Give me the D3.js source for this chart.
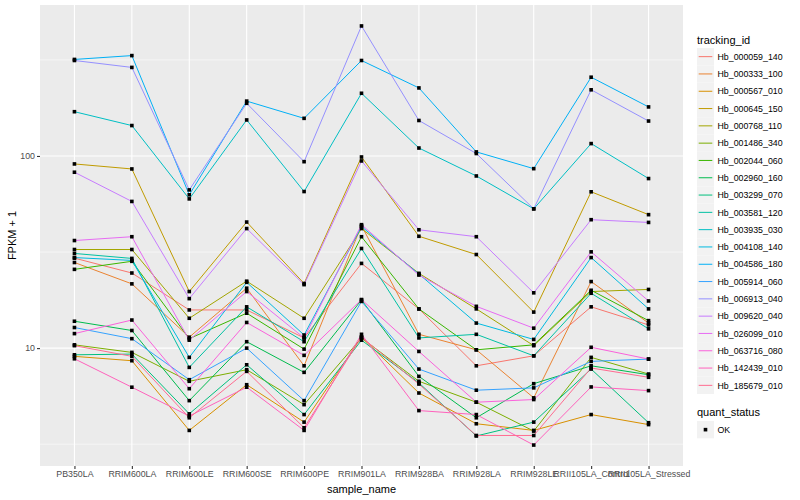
<!DOCTYPE html>
<html>
<head>
<meta charset="utf-8">
<script src="https://cdn.jsdelivr.net/npm/d3@7"></script>
<style>
  body { margin: 0; background: #fff; }
  text { font-family: "Liberation Sans", Arial, sans-serif; }
</style>
</head>
<body>
<svg id="chart" width="800" height="500"></svg>
<script>
// sample names on the x axis
const samples = ["PB350LA", "RRIM600LA", "RRIM600LE", "RRIM600SE", "RRIM600PE", "RRIM901LA",
  "RRIM928BA", "RRIM928LA", "RRIM928LE", "RRII105LA_Control", "RRII105LA_Stressed"];

const trackingIds = ["Hb_000059_140", "Hb_000333_100", "Hb_000567_010", "Hb_000645_150", "Hb_000768_110",
  "Hb_001486_340", "Hb_002044_060", "Hb_002960_160", "Hb_003299_070", "Hb_003581_120",
  "Hb_003935_030", "Hb_004108_140", "Hb_004586_180", "Hb_005914_060", "Hb_006913_040",
  "Hb_009620_040", "Hb_026099_010", "Hb_063716_080", "Hb_142439_010", "Hb_185679_010"];

// FPKM + 1 per sample, one array per gene
const hb000059_140 = [29.4, 24.6, 15.8, 15.8, 11.3, 27.6, 16.0, 8.09, 9.12, 16.4, 13.2];
const hb000333_100 = [27.9, 21.6, 11.4, 20.5, 8.09, 43.4, 11.8, 9.80, 5.51, 22.2, 13.5];
const hb000567_010 = [9.06, 8.60, 3.73, 6.45, 4.12, 11.4, 5.84, 4.04, 3.73, 4.51, 4.00];
const hb000645_150 = [90.9, 85.6, 19.7, 45.3, 21.7, 98.8, 38.2, 30.7, 15.4, 65.1, 49.5];
const hb000768_110 = [32.6, 32.6, 14.3, 22.3, 14.3, 41.9, 24.5, 16.0, 10.3, 19.7, 20.2];
const hb001486_340 = [10.4, 9.50, 6.72, 7.72, 5.08, 11.3, 6.72, 5.23, 3.70, 8.95, 7.33];
const hb002044_060 = [25.7, 28.3, 11.2, 15.2, 9.88, 38.0, 16.0, 9.80, 10.4, 20.0, 13.9];
const hb002960_160 = [13.8, 12.35, 5.33, 10.8, 7.48, 17.8, 7.13, 4.34, 6.53, 8.09, 7.27];
const hb003299_070 = [9.23, 9.31, 4.55, 8.19, 4.51, 11.0, 6.59, 3.49, 4.12, 7.78, 4.09];
const hb003581_120 = [31.1, 29.3, 7.94, 16.4, 10.8, 33.0, 11.3, 11.8, 9.12, 19.3, 12.6];
const hb003935_030 = [170, 144, 59.8, 154, 65.3, 212, 110, 78.7, 53.1, 116, 76.3];
const hb004108_140 = [29.6, 28.6, 8.95, 22.0, 11.7, 42.9, 24.3, 13.5, 11.1, 29.6, 16.0];
const hb004586_180 = [318, 333, 62.8, 193, 157, 314, 226, 105, 85.9, 257, 180];
const hb005914_060 = [12.8, 11.2, 6.85, 10.0, 5.33, 17.5, 7.78, 6.04, 6.21, 8.53, 8.77];
const hb006913_040 = [314, 289, 66.6, 188, 93.4, 475, 153, 103, 53.1, 221, 152];
const hb009620_040 = [82.3, 58.0, 18.1, 41.9, 21.4, 94.2, 41.3, 38.0, 19.4, 46.6, 45.1];
const hb026099_010 = [36.3, 38.0, 11.0, 19.7, 11.3, 43.9, 24.0, 16.5, 12.7, 31.7, 17.6];
const hb063716_080 = [11.9, 14.0, 6.15, 13.6, 9.17, 17.9, 9.61, 5.23, 5.40, 10.1, 8.77];
const hb142439_010 = [8.80, 6.26, 4.43, 6.26, 3.73, 11.8, 4.73, 4.51, 3.13, 6.28, 6.01];
const hb185679_010 = [10.3, 9.06, 4.34, 7.57, 3.85, 11.4, 6.50, 3.51, 3.51, 7.88, 7.05];

const seriesValues = [hb000059_140, hb000333_100, hb000567_010, hb000645_150, hb000768_110,
  hb001486_340, hb002044_060, hb002960_160, hb003299_070, hb003581_120,
  hb003935_030, hb004108_140, hb004586_180, hb005914_060, hb006913_040,
  hb009620_040, hb026099_010, hb063716_080, hb142439_010, hb185679_010];

const colors = ["#F8766D", "#EA8331", "#D89000", "#C09B00", "#A3A500", "#7CAE00", "#39B600", "#00BB4E",
  "#00BF7D", "#00C1A3", "#00BFC4", "#00BAE0", "#00B0F6", "#35A2FF", "#9590FF", "#C77CFF",
  "#E76BF3", "#FA62DB", "#FF62BC", "#FF6C91"];

const yTicks = [10, 100];
const yMinor = [10 ** 0.5, 10 ** 1.5, 10 ** 2.5];

const series = trackingIds.map((id, i) => ({
  id: id,
  color: colors[i],
  values: samples.map((s, j) => ({ sample: s, value: seriesValues[i][j] }))
}));

const margin = { left: 40, right: 683, top: 5, bottom: 466 };
const svg = d3.select("#chart");

const x = d3.scalePoint()
  .domain(samples)
  .range([margin.left, margin.right])
  .padding(0.6);

// log scale with ggplot-like 5% expansion
const allVals = seriesValues.flat();
const lo = Math.log10(d3.min(allVals)), hi = Math.log10(d3.max(allVals));
const pad = (hi - lo) * 0.05;
const y = d3.scaleLog()
  .domain([10 ** (lo - pad), 10 ** (hi + pad)])
  .range([margin.bottom, margin.top]);

// panel
svg.append("rect")
  .attr("x", margin.left).attr("y", margin.top)
  .attr("width", margin.right - margin.left).attr("height", margin.bottom - margin.top)
  .attr("fill", "#EBEBEB");

svg.append("g").selectAll("line")
  .data(yMinor)
  .enter().append("line")
  .attr("x1", margin.left).attr("x2", margin.right)
  .attr("y1", d => y(d)).attr("y2", d => y(d))
  .attr("stroke", "#fff").attr("stroke-width", 0.55);

svg.append("g").selectAll("line")
  .data(yTicks)
  .enter().append("line")
  .attr("x1", margin.left).attr("x2", margin.right)
  .attr("y1", d => y(d)).attr("y2", d => y(d))
  .attr("stroke", "#fff").attr("stroke-width", 1.1);

svg.append("g").selectAll("line")
  .data(samples)
  .enter().append("line")
  .attr("x1", d => x(d)).attr("x2", d => x(d))
  .attr("y1", margin.top).attr("y2", margin.bottom)
  .attr("stroke", "#fff").attr("stroke-width", 1.1);

// lines
const line = d3.line()
  .x(d => x(d.sample))
  .y(d => y(d.value));

svg.append("g").selectAll("path")
  .data(series)
  .enter().append("path")
  .attr("d", d => line(d.values))
  .attr("fill", "none")
  .attr("stroke", d => d.color)
  .attr("stroke-width", 1);

// points
svg.append("g").selectAll("g")
  .data(series)
  .enter().append("g")
  .selectAll("rect")
  .data(d => d.values)
  .enter().append("rect")
  .attr("x", d => x(d.sample) - 1.8)
  .attr("y", d => y(d.value) - 1.8)
  .attr("width", 3.6).attr("height", 3.6)
  .attr("fill", "#000");

// axes
const xAxis = d3.axisBottom(x).tickSize(3).tickPadding(2);
const gx = svg.append("g")
  .attr("transform", "translate(0," + margin.bottom + ")")
  .call(xAxis);
gx.select(".domain").remove();
gx.selectAll("line").attr("stroke", "#333").attr("stroke-width", 1.1);
gx.selectAll("text").attr("fill", "#4D4D4D").attr("font-size", 8.8);

const yAxis = d3.axisLeft(y).tickValues(yTicks).tickFormat(d3.format("d")).tickSize(3).tickPadding(2);
const gy = svg.append("g")
  .attr("transform", "translate(" + margin.left + ",0)")
  .call(yAxis);
gy.select(".domain").remove();
gy.selectAll("line").attr("stroke", "#333").attr("stroke-width", 1.1);
gy.selectAll("text").attr("fill", "#4D4D4D").attr("font-size", 8.8);

svg.append("text")
  .attr("x", (margin.left + margin.right) / 2)
  .attr("y", 493)
  .attr("text-anchor", "middle")
  .attr("font-size", 11)
  .text("sample_name");

svg.append("text")
  .attr("transform", "translate(16," + ((margin.top + margin.bottom) / 2) + ") rotate(-90)")
  .attr("text-anchor", "middle")
  .attr("font-size", 11)
  .text("FPKM + 1");

// legend
const legend = svg.append("g").attr("transform", "translate(697,0)");
legend.append("text")
  .attr("x", 0).attr("y", 44)
  .attr("font-size", 11)
  .text("tracking_id");

const keyH = 17.3;
const items = legend.selectAll("g.item")
  .data(series)
  .enter().append("g")
  .attr("class", "item")
  .attr("transform", (d, i) => "translate(0," + (48 + i * keyH) + ")");
items.append("rect")
  .attr("width", 17).attr("height", keyH)
  .attr("fill", "#F2F2F2");
items.append("line")
  .attr("x1", 1.7).attr("x2", 15.3)
  .attr("y1", keyH / 2).attr("y2", keyH / 2)
  .attr("stroke", d => d.color).attr("stroke-width", 1);
items.append("text")
  .attr("x", 20.5).attr("y", keyH / 2 + 3.2)
  .attr("font-size", 8.8)
  .text(d => d.id);

legend.append("text")
  .attr("x", 0).attr("y", 416)
  .attr("font-size", 11)
  .text("quant_status");
const ok = legend.append("g").attr("transform", "translate(0,421)");
ok.append("rect").attr("width", 17).attr("height", keyH).attr("fill", "#F2F2F2");
ok.append("rect").attr("x", 6.7).attr("y", keyH / 2 - 1.8).attr("width", 3.6).attr("height", 3.6).attr("fill", "#000");
ok.append("text").attr("x", 20.5).attr("y", keyH / 2 + 3.2).attr("font-size", 8.8).text("OK");
</script>
</body>
</html>
